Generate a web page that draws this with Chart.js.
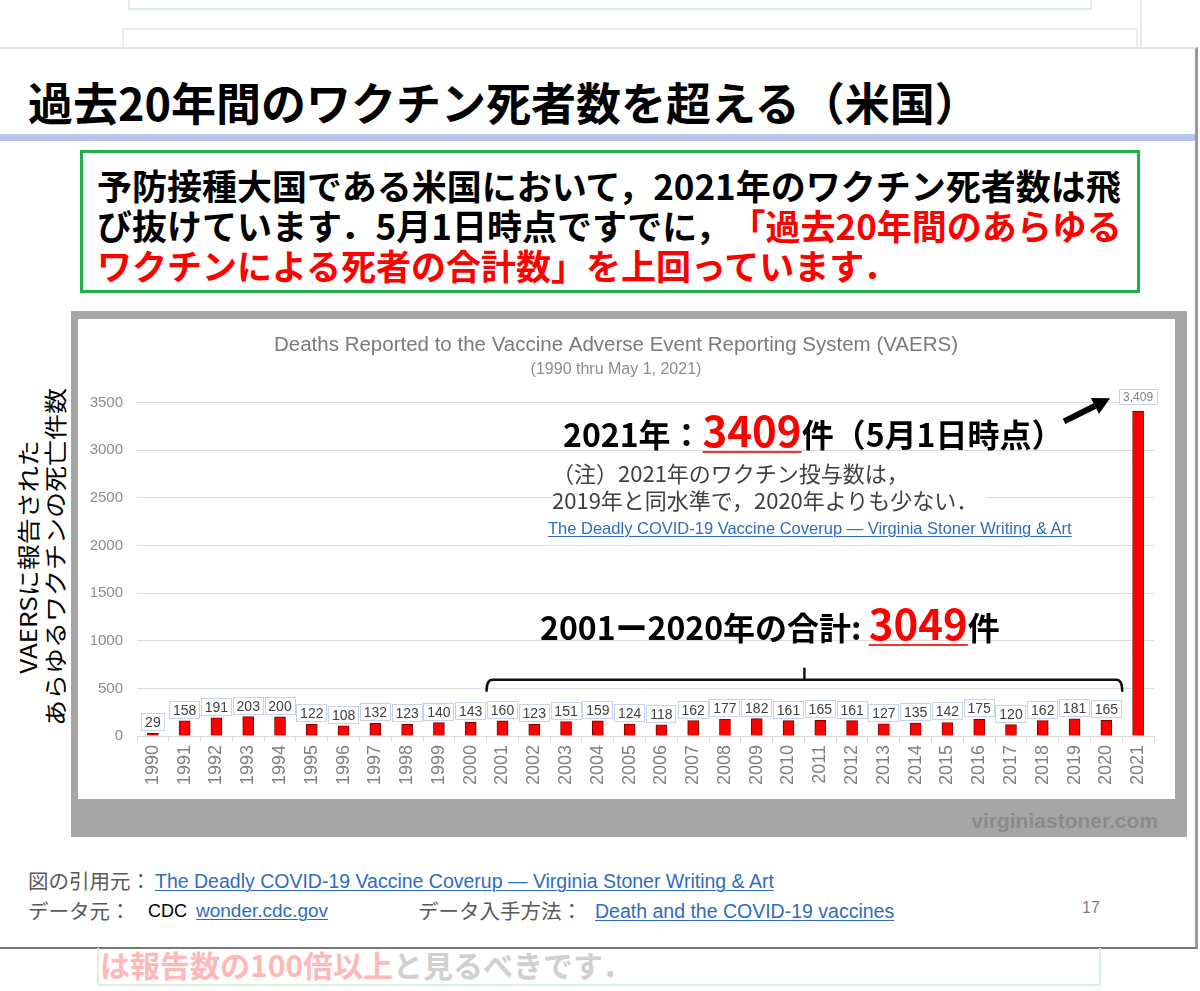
<!DOCTYPE html>
<html lang="ja">
<head>
<meta charset="utf-8">
<script src="https://cdn.jsdelivr.net/npm/chart.js@4.4.1/dist/chart.umd.min.js"></script>
<style>
html,body{margin:0;padding:0;background:#fff;}
body{width:1200px;height:991px;position:relative;overflow:hidden;font-family:"Noto Sans CJK JP","Noto Sans",sans-serif;text-spacing-trim:space-all;}
.abs{position:absolute;white-space:nowrap;}
.link{color:#2f6cc0;text-decoration:underline;text-decoration-thickness:1px;text-underline-offset:2px;font-family:"Liberation Sans",Arial,sans-serif;}
.red{color:#ff0000;}
.big{font-size:42px;color:#ff0000;text-decoration:underline;text-decoration-color:#ff3030;text-decoration-thickness:2px;text-underline-offset:4px;}
.foot{font-size:20.5px;line-height:26px;color:#595959;}
</style>
</head>
<body>
<!-- faded slide layers above -->
<div class="abs" style="left:128px;top:-4px;width:960px;height:12px;border:2px solid #dcf0e2;border-top:none;"></div>
<div class="abs" style="left:122px;top:28px;width:1012px;height:40px;border:2px solid #ececec;"></div>
<div class="abs" style="left:1140px;top:0;width:2px;height:48px;background:#e8e8e8;"></div>

<!-- slide -->
<div class="abs" style="left:0;top:47px;width:1195px;height:898px;background:#fff;border-top:2px solid #e2e2e2;border-right:3px solid #9a9a9a;border-bottom:2px solid #777;"></div>

<!-- title -->
<div class="abs" style="left:28px;top:78px;font-size:45px;font-weight:700;line-height:48px;color:#000;">過去20年間のワクチン死者数を超える（米国）</div>
<div class="abs" style="left:0;top:134px;width:1195px;height:7px;background:#b4c7e7;"></div>

<!-- green box -->
<div class="abs" style="left:80px;top:150px;width:1054px;height:137px;border:3px solid #1eb04b;"></div>
<div class="abs" style="left:97px;top:165px;font-size:35px;font-weight:700;line-height:40px;color:#000;">
予防接種大国である米国において，2021年のワクチン死者数は飛<br>
び抜けています．5月1日時点ですでに，<span class="red">「過去20年間のあらゆる</span><br>
<span class="red">ワクチンによる死者の合計数」を上回っています．</span></div>

<!-- chart frame -->
<div class="abs" style="left:71px;top:311px;width:1116px;height:526px;background:#a6a6a6;"></div>
<div class="abs" style="left:78px;top:319px;width:1097px;height:480px;background:#fff;">
  <canvas id="c" width="1097" height="480"></canvas>
</div>
<div class="abs" style="left:900px;top:808px;width:258px;text-align:right;font-family:'Liberation Sans',Arial,sans-serif;font-weight:700;font-size:21px;line-height:26px;color:#8a8a8a;">virginiastoner.com</div>

<!-- y axis title (outside frame) -->
<div class="abs" style="left:-139px;top:525px;width:360px;height:64px;transform:rotate(-90deg) scale(1,0.86);text-align:center;font-size:26px;line-height:32px;color:#000;">VAERSに報告された<br>あらゆるワクチンの死亡件数</div>

<!-- annotations -->
<div class="abs" style="left:563px;top:404px;font-size:32px;font-weight:700;line-height:50px;color:#000;">2021年：<span class="big">3409</span>件（5月1日時点）</div>
<div class="abs" style="left:552px;top:459px;font-size:22px;line-height:27px;color:#404040;background:#fff;padding-right:8px;">（注）2021年のワクチン投与数は，<br>2019年と同水準で，2020年よりも少ない．</div>
<div class="abs link" style="left:548px;top:518px;font-size:16.5px;line-height:20px;">The Deadly COVID-19 Vaccine Coverup — Virginia Stoner Writing &amp; Art</div>
<div class="abs" style="left:540px;top:597px;font-size:32px;font-weight:700;line-height:50px;color:#000;">2001ー2020年の合計: <span class="big">3049</span>件</div>

<!-- footer -->
<div class="abs foot" style="left:28px;top:867px;">図の引用元：</div>
<div class="abs link" style="left:155px;top:869px;font-size:19.5px;line-height:24px;">The Deadly COVID-19 Vaccine Coverup — Virginia Stoner Writing &amp; Art</div>
<div class="abs foot" style="left:28px;top:897px;">データ元：</div>
<div class="abs" style="left:148px;top:898px;font-size:18px;line-height:26px;color:#000;font-family:'Liberation Sans',Arial,sans-serif;">CDC</div>
<div class="abs link" style="left:196px;top:899px;font-size:19px;line-height:24px;">wonder.cdc.gov</div>
<div class="abs foot" style="left:418px;top:897px;">データ入手方法：</div>
<div class="abs link" style="left:595px;top:899px;font-size:19.5px;line-height:24px;">Death and the COVID-19 vaccines</div>
<div class="abs" style="left:1082px;top:898px;font-size:16px;line-height:20px;color:#7f7f7f;font-family:'Liberation Sans',Arial,sans-serif;">17</div>

<!-- faded layer below -->
<div class="abs" style="left:97px;top:948px;width:1000px;height:36px;border:2px solid #dcf0e2;border-top:none;"></div>
<div class="abs" style="left:100px;top:944px;font-size:30px;font-weight:700;line-height:40px;color:#d0d0d0;"><span style="color:#ffb8b8;">は報告数の100倍以上</span>と見るべきです．</div>

<script>
// ---- data ----
const years = ['1990','1991','1992','1993','1994','1995','1996','1997','1998','1999','2000',
  '2001','2002','2003','2004','2005','2006','2007','2008','2009','2010',
  '2011','2012','2013','2014','2015','2016','2017','2018','2019','2020','2021'];
const deaths = [29,158,191,203,200,122,108,132,123,140,143,
  160,123,151,159,124,118,162,177,182,161,
  165,161,127,135,142,175,120,162,181,165,3409];
const yTickValues = [0,500,1000,1500,2000,2500,3000,3500];
const chartTitle = 'Deaths Reported to the Vaccine Adverse Event Reporting System (VAERS)';
const chartSubtitle = '(1990 thru May 1, 2021)';
const bracketFrom = '2001';
const bracketTo = '2020';
const bracketLevel = 590;

Chart.defaults.font.family = '"Liberation Sans", Arial, sans-serif';

const valueLabels = {
  id: 'valueLabels',
  afterDatasetsDraw(chart) {
    const ctx = chart.ctx;
    const meta = chart.getDatasetMeta(0);
    const data = chart.data.datasets[0].data;
    meta.data.forEach((bar, i) => {
      const v = data[i];
      const big = v >= 1000;
      const txt = v.toLocaleString('en-US');
      ctx.save();
      ctx.font = (big ? '12px' : '14px') + ' "Liberation Sans", Arial, sans-serif';
      const tw = ctx.measureText(txt).width;
      const w = Math.round(tw + (big ? 9 : 8));
      const h = big ? 16 : 18;
      const x = Math.round(bar.x - w / 2);
      const y = Math.round(bar.y - (big ? 6 : 2) - h);
      ctx.fillStyle = '#ffffff';
      ctx.fillRect(x, y, w, h);
      ctx.strokeStyle = '#c6d3e8';
      ctx.lineWidth = 1;
      ctx.strokeRect(x + 0.5, y + 0.5, w - 1, h - 1);
      ctx.fillStyle = big ? '#808080' : '#404040';
      ctx.textAlign = 'center';
      ctx.textBaseline = 'middle';
      ctx.fillText(txt, bar.x, y + h / 2 + 1);
      ctx.restore();
    });
  }
};

const overlays = {
  id: 'overlays',
  afterDraw(chart) {
    const ctx = chart.ctx;
    const xs = chart.scales.x, ys = chart.scales.y;
    const half = (xs.getPixelForValue(1) - xs.getPixelForValue(0)) / 2;
    const l = xs.getPixelForValue(years.indexOf(bracketFrom)) - half;
    const r = xs.getPixelForValue(years.indexOf(bracketTo)) + half;
    const by = ys.getPixelForValue(bracketLevel);
    ctx.save();
    ctx.strokeStyle = '#111';
    ctx.lineWidth = 2.5;
    ctx.lineJoin = 'round';
    ctx.lineCap = 'round';
    ctx.beginPath();
    ctx.moveTo(l, by + 11);
    ctx.quadraticCurveTo(l, by, l + 6, by);
    ctx.lineTo(r - 6, by);
    ctx.quadraticCurveTo(r, by, r, by + 11);
    ctx.stroke();
    const m = (l + r) / 2;
    ctx.beginPath();
    ctx.moveTo(m, by);
    ctx.lineTo(m, by - 11);
    ctx.stroke();
    // arrow to the 2021 label
    const last = years.length - 1;
    const bx = xs.getPixelForValue(last);
    const top = ys.getPixelForValue(deaths[last]);
    const tip = [bx - 28, top - 13];
    const tail = [bx - 74, top + 10];
    const ang = Math.atan2(tip[1] - tail[1], tip[0] - tail[0]);
    const headLen = 17, headW = 9;
    const base = [tip[0] - headLen * Math.cos(ang), tip[1] - headLen * Math.sin(ang)];
    ctx.strokeStyle = '#000';
    ctx.lineWidth = 6;
    ctx.lineCap = 'butt';
    ctx.beginPath();
    ctx.moveTo(tail[0], tail[1]);
    ctx.lineTo(base[0], base[1]);
    ctx.stroke();
    ctx.fillStyle = '#000';
    ctx.beginPath();
    ctx.moveTo(tip[0], tip[1]);
    ctx.lineTo(base[0] + headW * Math.sin(ang), base[1] - headW * Math.cos(ang));
    ctx.lineTo(base[0] - headW * Math.sin(ang), base[1] + headW * Math.cos(ang));
    ctx.closePath();
    ctx.fill();
    ctx.restore();
  }
};

new Chart(document.getElementById('c'), {
  type: 'bar',
  data: {
    labels: years,
    datasets: [{
      data: deaths,
      backgroundColor: '#ff0000',
      borderColor: '#7a0000',
      borderWidth: 1,
      barThickness: 11
    }]
  },
  options: {
    responsive: false,
    animation: false,
    layout: { padding: { left: 0, right: 21, top: 0, bottom: 0 } },
    plugins: {
      legend: { display: false },
      tooltip: { enabled: false },
      title: {
        display: true, text: chartTitle, color: '#7a7a7a',
        font: { size: 20.5, weight: 'normal' },
        padding: { top: 13.7, bottom: 3.1 }
      },
      subtitle: {
        display: true, text: chartSubtitle, color: '#8c8c8c',
        font: { size: 16 },
        padding: { top: 0, bottom: 23.1 }
      }
    },
    scales: {
      x: {
        offset: true,
        grid: { display: true, drawOnChartArea: false, drawTicks: true, tickLength: 6, color: '#d9d9d9' },
        border: { display: true, color: '#d9d9d9' },
        ticks: { autoSkip: false, minRotation: 90, maxRotation: 90, color: '#808080', font: { size: 18 }, padding: 3 },
        afterFit(s) { s.height = 63; }
      },
      y: {
        min: 0, max: 3500,
        afterBuildTicks(s) { s.ticks = yTickValues.map(v => ({ value: v })); },
        grid: { color: '#dcdcdc', drawTicks: false },
        border: { display: false },
        ticks: { color: '#8c8c8c', font: { size: 15 }, padding: 14, callback: v => String(v) },
        afterFit(s) { s.width = 59; }
      }
    }
  },
  plugins: [valueLabels, overlays]
});
</script>
</body>
</html>
